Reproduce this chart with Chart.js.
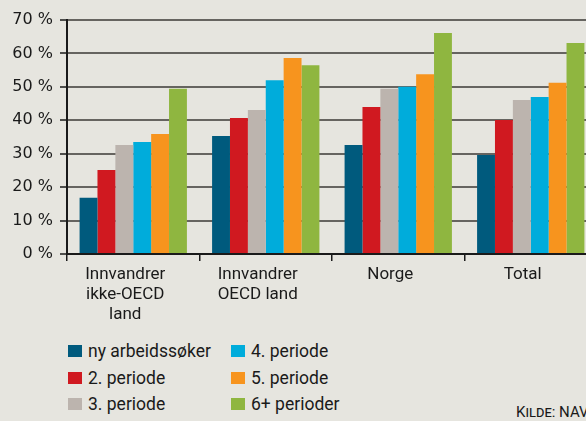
<!DOCTYPE html>
<html><head><meta charset="utf-8">
<script src="https://cdn.jsdelivr.net/npm/chart.js@4"></script>
<style>
html,body{margin:0;padding:0;background:#e6e5df;width:586px;height:421px;overflow:hidden;}
#wrap{position:absolute;left:0;top:0;width:600px;height:340px;}
#legend{position:absolute;left:68px;top:341px;font-family:"Roboto",sans-serif;font-size:17.5px;color:#1a1a1a;}
.item{position:absolute;white-space:nowrap;height:20px;line-height:20px;}
.box{display:inline-block;width:14px;height:12px;vertical-align:middle;margin-right:6px;position:relative;top:-1px;}
#kilde{position:absolute;left:516px;top:403px;font-family:"Roboto",sans-serif;font-size:15px;color:#1a1a1a;font-variant:small-caps;white-space:nowrap;}
</style></head>
<body>
<div id="wrap"><canvas id="c" width="600" height="340"></canvas></div>
<div id="legend"></div>
<div id="kilde">Kilde: NAV</div>
<script>
const categories = [["Innvandrer","ikke-OECD","land"],["Innvandrer","OECD land"],"Norge","Total"];
const seriesNames = ["ny arbeidssøker","2. periode","3. periode","4. periode","5. periode","6+ perioder"];
const seriesColors = ["#005a7d","#d01920","#bcb4ae","#00acdb","#f7941e","#8fb640"];
const nyArbeidssoker = [16.8, 35.3, 32.6, 29.6];
const periode2 = [25.1, 40.7, 44.0, 40.1];
const periode3 = [32.6, 43.1, 49.4, 46.1];
const periode4 = [33.5, 52.0, 50.0, 47.0];
const periode5 = [35.9, 58.6, 53.8, 51.2];
const periode6 = [49.4, 56.5, 66.1, 63.1];
const yTicks = [0,10,20,30,40,50,60,70];
const seriesValues = [nyArbeidssoker, periode2, periode3, periode4, periode5, periode6];

const datasets = seriesNames.map((n,i)=>({label:n,data:seriesValues[i],backgroundColor:seriesColors[i],borderWidth:0}));

const chart = new Chart(document.getElementById('c'),{
  type:'bar',
  data:{labels:categories,datasets},
  options:{
    responsive:false,animation:false,
    layout:{padding:{top:20,right:3,left:0,bottom:0}},
    plugins:{legend:{display:false},tooltip:{enabled:false}},
    datasets:{bar:{categoryPercentage:0.81,barPercentage:1.0}},
    scales:{
      x:{
        grid:{drawOnChartArea:false,drawTicks:true,tickLength:7,color:'#1a1a1a',lineWidth:1.5},
        border:{display:true,color:'#1a1a1a',width:2},
        ticks:{color:'#1a1a1a',font:{family:'Roboto',size:17,lineHeight:1.18},padding:4,labelOffset:-8,maxRotation:0,autoSkip:false},
        afterFit:(s)=>{s.height=86;}
      },
      y:{
        min:0,max:70,
        afterBuildTicks:(s)=>{s.ticks=yTicks.map(v=>({value:v}));},
        grid:{color:'#666460',lineWidth:2,drawTicks:true,tickLength:7,tickColor:'#1a1a1a',tickWidth:1.5},
        border:{display:true,color:'#1a1a1a',width:2},
        ticks:{color:'#1a1a1a',font:{family:'DejaVu Sans',size:16},padding:7,callback:(v)=>v+' %'},
        afterFit:(s)=>{s.width=67;}
      }
    }
  }
});

// legend from datasets, column-major 2 columns x 3 rows
const leg=document.getElementById('legend');
datasets.forEach((d,i)=>{
  const col=Math.floor(i/3), row=i%3;
  const el=document.createElement('div');
  el.className='item';
  el.style.left=(col*163)+'px';
  el.style.top=(row*26.5)+'px';
  el.innerHTML='<span class="box" style="background:'+d.backgroundColor+'"></span>'+d.label;
  leg.appendChild(el);
});
</script>
</body></html>
